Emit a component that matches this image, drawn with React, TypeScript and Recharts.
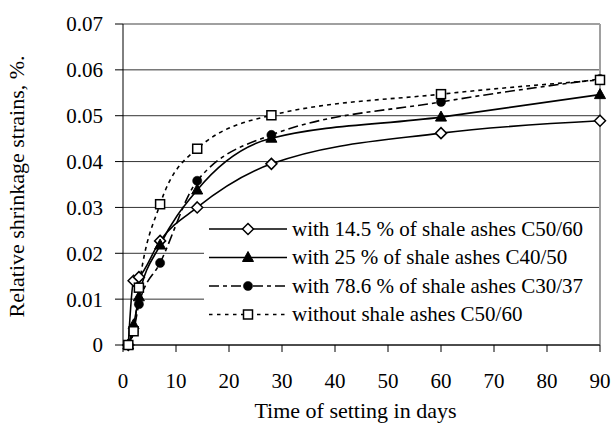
import React from 'react';
import {
  LineChart,
  Line,
  XAxis,
  YAxis,
  CartesianGrid,
  ReferenceLine,
  Legend,
} from 'recharts';

const days = [1, 2, 3, 7, 14, 28, 60, 90];
const ash145 = [0, 0.014, 0.0148, 0.0227, 0.03, 0.0395, 0.0462, 0.0489];
const ash25 = [0, 0.0044, 0.0105, 0.0218, 0.0338, 0.0451, 0.0497, 0.0546];
const ash786 = [0, 0.003, 0.0089, 0.0179, 0.0358, 0.0458, 0.053, 0.058];
const noAsh = [0, 0.003, 0.0125, 0.0307, 0.0428, 0.0501, 0.0547, 0.0578];

const xTicks = [0, 10, 20, 30, 40, 50, 60, 70, 80, 90];
const yTicks = [0, 0.01, 0.02, 0.03, 0.04, 0.05, 0.06, 0.07];

const seriesNames = [
  'with 14.5 % of shale ashes C50/60',
  'with 25 % of shale ashes C40/50',
  'with 78.6 % of shale ashes C30/37',
  'without shale ashes C50/60',
];

const data = days.map((d, i) => ({
  day: d,
  s1: ash145[i],
  s2: ash25[i],
  s3: ash786[i],
  s4: noAsh[i],
}));

const FONT = 'Liberation Serif, Times New Roman, DejaVu Serif, serif';
const fontStyle = { fontFamily: FONT };

type Shape = 'diamond' | 'triangle' | 'circle' | 'square';

function marker(shape: Shape, cx: number, cy: number, key?: string) {
  if (shape === 'diamond') {
    const r = 5.5;
    return (
      <polygon
        key={key}
        points={`${cx},${cy - r} ${cx + r},${cy} ${cx},${cy + r} ${cx - r},${cy}`}
        fill="#fff"
        stroke="#000"
        strokeWidth={1.5}
      />
    );
  }
  if (shape === 'triangle') {
    return (
      <polygon
        key={key}
        points={`${cx},${cy - 6} ${cx + 5.5},${cy + 4} ${cx - 5.5},${cy + 4}`}
        fill="#000"
        stroke="#000"
        strokeWidth={1}
      />
    );
  }
  if (shape === 'circle') {
    return <circle key={key} cx={cx} cy={cy} r={4.6} fill="#000" stroke="#000" strokeWidth={0.5} />;
  }
  return (
    <rect
      key={key}
      x={cx - 4.5}
      y={cy - 4.5}
      width={9}
      height={9}
      fill="#fff"
      stroke="#000"
      strokeWidth={1.5}
    />
  );
}

const series: { key: string; shape: Shape; dash?: string }[] = [
  { key: 's1', shape: 'diamond' },
  { key: 's2', shape: 'triangle' },
  { key: 's3', shape: 'circle', dash: '10 4 4 4' },
  { key: 's4', shape: 'square', dash: '4 4' },
];

const makeDot = (shape: Shape, key: string) => (props: any) => {
  const { cx, cy, index } = props;
  if (cx == null || cy == null) return <g key={`${key}-${index}`} />;
  return <g key={`${key}-${index}`}>{marker(shape, cx, cy)}</g>;
};

const LegendContent = () => (
  <svg width={395} height={135} style={{ display: 'block' }}>
    {series.map((s, i) => {
      const cy = 20 + i * 28.5;
      return (
        <g key={s.key}>
          <line
            x1={5}
            x2={83}
            y1={cy}
            y2={cy}
            stroke="#000"
            strokeWidth={1.6}
            strokeDasharray={s.dash === '4 4' ? '3.5 4.5' : s.dash}
          />
          {marker(s.shape, 44, cy)}
          <text x={88} y={cy + 6.5} fontSize={21} fontFamily={FONT} style={fontStyle} fill="#000">
            {seriesNames[i]}
          </text>
        </g>
      );
    })}
  </svg>
);

export default function App() {
  return (
    <div style={{ position: 'absolute', left: 0, top: 0, fontFamily: FONT }}>
      <LineChart
        width={614}
        height={423}
        data={data}
        margin={{ top: 24, right: 14, left: 0, bottom: 0 }}
        style={fontStyle}
      >
        <CartesianGrid horizontal vertical={false} stroke="#333" strokeWidth={1} />
        <XAxis
          dataKey="day"
          type="number"
          domain={[0, 90]}
          ticks={xTicks}
          interval={0}
          height={78}
          tickSize={7}
          tickMargin={21}
          stroke="#000"
          tick={{ fill: '#000', fontSize: 21, fontFamily: FONT, style: fontStyle }}
          label={{
            content: () => (
              <text x={355.5} y={417.5} textAnchor="middle" fontSize={22} fontFamily={FONT} style={fontStyle} fill="#000">
                Time of setting in days
              </text>
            ),
          }}
        />
        <YAxis
          type="number"
          domain={[0, 0.07]}
          ticks={yTicks}
          interval={0}
          width={123}
          tickSize={8}
          tickMargin={12}
          stroke="#000"
          tick={{ fill: '#000', fontSize: 21, fontFamily: FONT, style: fontStyle }}
          tickFormatter={(v: number) => (v === 0 ? '0' : v.toFixed(2))}
          label={{
            content: () => (
              <text
                x={24}
                y={186.5}
                transform="rotate(-90 24 186.5)"
                textAnchor="middle"
                fontSize={22}
                fontFamily={FONT}
                style={fontStyle}
                fill="#000"
              >
                Relative shrinkage strains, %.
              </text>
            ),
          }}
        />
        <ReferenceLine y={0.07} stroke="#a0a0a0" strokeWidth={2} />
        <ReferenceLine x={90} stroke="#a0a0a0" strokeWidth={2} />
        {series.map((s, i) => (
          <Line
            key={s.key}
            dataKey={s.key}
            name={seriesNames[i]}
            type="monotone"
            stroke="#000"
            strokeWidth={1.6}
            strokeDasharray={s.dash}
            dot={makeDot(s.shape, s.key)}
            activeDot={false}
            isAnimationActive={false}
          />
        ))}
        <Legend
          layout="horizontal"
          verticalAlign="middle"
          align="center"
          content={() => <LegendContent />}
          wrapperStyle={{
            position: 'absolute',
            left: 204,
            top: 209,
            width: 395,
            height: 135,
            background: '#fff',
            margin: 0,
            padding: 0,
          }}
        />
      </LineChart>
    </div>
  );
}
